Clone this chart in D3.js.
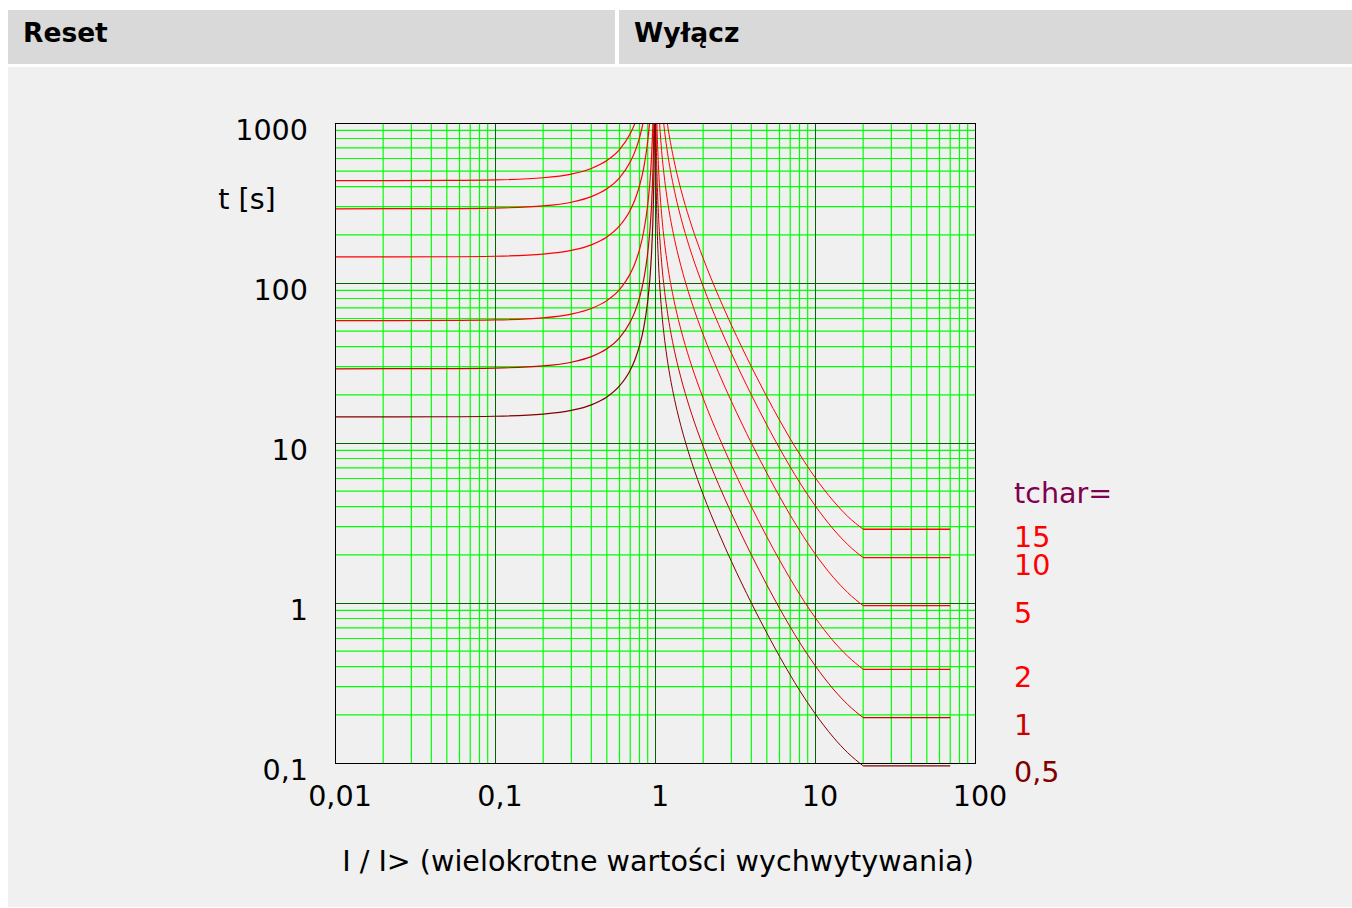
<!DOCTYPE html>
<html>
<head>
<meta charset="utf-8">
<script src="https://cdn.jsdelivr.net/npm/d3@7"></script>
<style>
  html, body { margin: 0; padding: 0; background: #ffffff; }
  svg { display: block; font-family: "DejaVu Sans", sans-serif; }
</style>
</head>
<body>
<svg id="chart" width="1352" height="908"></svg>
<script>
// ---------- data ----------
const headers = ["Reset", "Wyłącz"];
const tcharValues = [15, 10, 5, 2, 1, 0.5];
const tcharLabels = ["15", "10", "5", "2", "1", "0,5"];
const curveColors = ["#ff0000", "#ff0000", "#ff0000", "#ff0000", "#cc0000", "#800000"];
const labelColors = ["#ff0000", "#ff0000", "#ff0000", "#ff0000", "#cc0000", "#800000"];

const xTickValues = [0.01, 0.1, 1, 10, 100];
const xTickLabels = ["0,01", "0,1", "1", "10", "100"];
const yTickValues = [0.1, 1, 10, 100, 1000];
const yTickLabels = ["0,1", "1", "10", "100", "1000"];

// trip branch (I/I> >= 1), times per tchar
const tripI = [1.003, 1.006, 1.01, 1.02, 1.03, 1.05, 1.07, 1.1, 1.15, 1.2, 1.3, 1.4, 1.5, 1.7, 2, 2.5, 3, 3.5, 4, 5, 6, 7, 8, 10, 13, 16, 20, 70];
const trip15 = [70395, 35145, 21045, 10472, 6948, 4128, 2921, 2016, 1313, 963.2, 614.9, 442.5, 340.2, 225.6, 142.8, 82.4, 54.7, 39.42, 30.03, 19.46, 13.91, 10.64, 8.54, 6.10, 4.35, 3.48, 2.89, 2.89];
const trip10 = [46930, 23430, 14030, 6981, 4632, 2752, 1947, 1344, 875.6, 642.1, 409.9, 295.0, 226.8, 150.4, 95.22, 54.93, 36.47, 26.28, 20.02, 12.97, 9.27, 7.09, 5.69, 4.07, 2.90, 2.32, 1.92, 1.92];
const trip5 = [23465, 11715, 7015, 3491, 2316, 1376, 973.5, 672, 437.8, 321.1, 205.0, 147.5, 113.4, 75.2, 47.61, 27.47, 18.24, 13.14, 10.01, 6.485, 4.635, 3.545, 2.845, 2.033, 1.448, 1.162, 0.962, 0.962];
const trip2 = [9386, 4686, 2806, 1396, 926.4, 550.4, 389.4, 268.8, 175.1, 128.4, 81.98, 59.0, 45.36, 30.08, 19.04, 10.99, 7.294, 5.256, 4.004, 2.594, 1.854, 1.418, 1.138, 0.813, 0.579, 0.465, 0.385, 0.385];
const trip1 = [4693, 2343, 1403, 698.1, 463.2, 275.2, 194.7, 134.4, 87.56, 64.21, 40.99, 29.50, 22.68, 15.04, 9.522, 5.493, 3.647, 2.628, 2.002, 1.297, 0.927, 0.709, 0.569, 0.407, 0.290, 0.232, 0.192, 0.192];
const trip05 = [2347, 1172, 701.5, 349.1, 231.6, 137.6, 97.35, 67.2, 43.78, 32.1, 20.5, 14.75, 11.34, 7.52, 4.76, 2.747, 1.824, 1.314, 1.001, 0.649, 0.464, 0.355, 0.285, 0.204, 0.145, 0.116, 0.096, 0.096];

// reset branch (I/I> < 1)
const resetI = [0.01, 0.05, 0.1, 0.2, 0.3, 0.4, 0.5, 0.6, 0.7, 0.75, 0.8, 0.85, 0.9, 0.93, 0.95, 0.97, 0.98, 0.99, 0.995, 0.998];
const reset15 = [436.5, 437.6, 440.9, 454.7, 479.7, 519.6, 582, 682.1, 855.9, 997.7, 1212, 1574, 2298, 3231, 4478, 7386, 11022, 21930, 43755, 109230];
const reset10 = [291.0, 291.7, 293.9, 303.1, 319.8, 346.4, 388.0, 454.7, 570.6, 665.1, 808.3, 1049, 1532, 2154, 2985, 4924, 7348, 14620, 29170, 72820];
const reset5 = [145.5, 145.9, 147.0, 151.6, 159.9, 173.2, 194.0, 227.4, 285.3, 332.6, 404.2, 524.5, 766, 1077, 1493, 2462, 3674, 7310, 14585, 36410];
const reset2 = [58.2, 58.34, 58.78, 60.62, 63.96, 69.28, 77.6, 90.94, 114.1, 133.0, 161.7, 209.8, 306.4, 430.8, 597, 984.8, 1470, 2924, 5834, 14564];
const reset1 = [29.10, 29.17, 29.39, 30.31, 31.98, 34.64, 38.80, 45.47, 57.06, 66.51, 80.83, 104.9, 153.2, 215.4, 298.5, 492.4, 734.8, 1462, 2917, 7282];
const reset05 = [14.55, 14.59, 14.70, 15.16, 15.99, 17.32, 19.40, 22.74, 28.53, 33.26, 40.42, 52.45, 76.6, 107.7, 149.3, 246.2, 367.4, 731, 1459, 3641];

const tripSeries = [trip15, trip10, trip5, trip2, trip1, trip05];
const resetSeries = [reset15, reset10, reset5, reset2, reset1, reset05];

// ---------- layout ----------
const svg = d3.select("#chart");
const W = 1352, H = 908;
const plot = { left: 335, right: 975, top: 123, bottom: 763 };

svg.append("rect").attr("x", 0).attr("y", 0).attr("width", W).attr("height", H).attr("fill", "#ffffff");
svg.append("rect").attr("x", 8).attr("y", 67).attr("width", W - 8).attr("height", 840).attr("fill", "#f0f0f0");
const headerCells = [{ x: 8, w: 607 }, { x: 619, w: W - 619 }];
headerCells.forEach((c, i) => {
  svg.append("rect").attr("x", c.x).attr("y", 10).attr("width", c.w).attr("height", 54).attr("fill", "#d9d9d9");
  svg.append("text").attr("x", c.x + 15).attr("y", 42)
    .attr("font-size", 26.5).attr("font-weight", "bold").attr("fill", "#000")
    .text(headers[i]);
});

const x = d3.scaleLog().domain([0.01, 100]).range([plot.left, plot.right]);
const y = d3.scaleLog().domain([0.1, 1000]).range([plot.bottom, plot.top]);
const px = v => Math.round(x(v)) + 0.5;
const py = v => Math.round(y(v)) + 0.5;

const gMinor = svg.append("g").attr("class", "minor");
const gMajor = svg.append("g").attr("class", "major");

const minorX = [], minorY = [];
[0.01, 0.1, 1, 10].forEach(d => { for (let m = 2; m <= 9; m++) minorX.push(d * m); });
[0.1, 1, 10, 100].forEach(d => { for (let m = 2; m <= 9; m++) minorY.push(d * m); });

gMinor.selectAll("line.vm").data(minorX).join("line").attr("class", "vm")
  .attr("x1", d => x(d)).attr("x2", d => x(d)).attr("y1", plot.top).attr("y2", plot.bottom)
  .attr("stroke", "#00ff00").attr("stroke-width", 1.2);
gMinor.selectAll("line.hm").data(minorY).join("line").attr("class", "hm")
  .attr("y1", d => y(d)).attr("y2", d => y(d)).attr("x1", plot.left).attr("x2", plot.right)
  .attr("stroke", "#00ff00").attr("stroke-width", 1.2);

gMajor.selectAll("line.vM").data(xTickValues.slice(1, -1)).join("line").attr("class", "vM")
  .attr("x1", px).attr("x2", px).attr("y1", plot.top).attr("y2", plot.bottom)
  .attr("stroke", "#006400").attr("stroke-width", 1);
gMajor.selectAll("line.hM").data(yTickValues.slice(1, -1)).join("line").attr("class", "hM")
  .attr("y1", py).attr("y2", py).attr("x1", plot.left).attr("x2", plot.right)
  .attr("stroke", "#006400").attr("stroke-width", 1);

// curves
svg.append("clipPath").attr("id", "clip").append("rect")
  .attr("x", plot.left).attr("y", plot.top).attr("width", plot.right - plot.left).attr("height", H - plot.top);
const curves = svg.append("g").attr("clip-path", "url(#clip)");
const smooth = d3.line().x(d => x(d[0])).y(d => y(d[1])).curve(d3.curveMonotoneX);
const straight = d3.line().x(d => x(d[0])).y(d => y(d[1]));

tcharValues.forEach((tc, i) => {
  const col = curveColors[i];
  const trip = tripI.map((v, k) => [v, tripSeries[i][k]]);
  const n = trip.length;
  curves.append("path").attr("d", smooth(trip.slice(0, n - 1)))
    .attr("fill", "none").attr("stroke", col).attr("stroke-width", 1);
  curves.append("path").attr("d", straight(trip.slice(n - 2)))
    .attr("fill", "none").attr("stroke", col).attr("stroke-width", 1.3);
  const reset = resetI.map((v, k) => [v, resetSeries[i][k]]);
  curves.append("path").attr("d", smooth(reset))
    .attr("fill", "none").attr("stroke", col).attr("stroke-width", 1.2);
});

// frame
svg.append("rect").attr("x", plot.left + 0.5).attr("y", plot.top + 0.5)
  .attr("width", plot.right - plot.left).attr("height", plot.bottom - plot.top)
  .attr("fill", "none").attr("stroke", "#000").attr("stroke-width", 1);

// axis labels
const fs = 28.6;
svg.selectAll("text.ylab").data(yTickValues).join("text").attr("class", "ylab")
  .attr("x", 308).attr("y", d => y(d) + 7).attr("dy", "0.35em")
  .attr("text-anchor", "end").attr("font-size", fs).attr("fill", "#000")
  .text((d, i) => yTickLabels[i]);
svg.selectAll("text.xlab").data(xTickValues).join("text").attr("class", "xlab")
  .attr("x", d => x(d) + 5).attr("y", 796).attr("dy", "0.35em")
  .attr("text-anchor", "middle").attr("font-size", fs).attr("fill", "#000")
  .text((d, i) => xTickLabels[i]);

svg.append("text").attr("x", 247).attr("y", 199).attr("dy", "0.35em")
  .attr("text-anchor", "middle").attr("font-size", fs).attr("fill", "#000").text("t [s]");
svg.append("text").attr("x", 658).attr("y", 861).attr("dy", "0.35em")
  .attr("text-anchor", "middle").attr("font-size", fs).attr("fill", "#000")
  .text("I / I> (wielokrotne wartości wychwytywania)");

svg.append("text").attr("x", 1014).attr("y", 493).attr("dy", "0.35em")
  .attr("font-size", fs).attr("fill", "#800050").text("tchar=");
const labelY = [537, 565, 613, 677, 725, 772];
tcharLabels.forEach((t, i) => {
  svg.append("text").attr("x", 1014).attr("y", labelY[i]).attr("dy", "0.35em")
    .attr("font-size", fs).attr("fill", labelColors[i]).text(t);
});
</script>
</body>
</html>
